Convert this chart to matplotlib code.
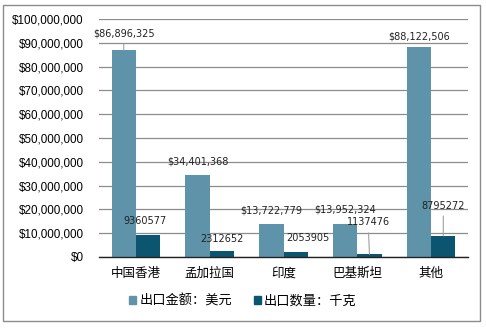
import matplotlib.pyplot as plt
import numpy as np
from matplotlib.ticker import FuncFormatter
from matplotlib.patches import Rectangle

plt.rcParams['font.family'] = ['Liberation Sans', 'Noto Sans CJK SC', 'DejaVu Sans']

categories = ['中国香港', '孟加拉国', '印度', '巴基斯坦', '其他']
amount_usd = [86896325, 34401368, 13722779, 13952324, 88122506]
weight_kg = [9360577, 2312652, 2053905, 1137476, 8795272]
series_names = ['出口金额：美元', '出口数量：千克']

light = '#5e93aa'
dark = '#0c5570'

fig = plt.figure(figsize=(4.86, 3.29), dpi=100)
ax = fig.add_axes([99 / 486, 1 - 257 / 329, 369 / 486, 238 / 329])

x = np.arange(len(categories))
w = 0.33
b1 = ax.bar(x - w / 2, amount_usd, w, color=light, zorder=3)
b2 = ax.bar(x + w / 2, weight_kg, w, color=dark, zorder=3)

ax.set_xlim(-0.5, len(categories) - 0.5)
ax.set_ylim(0, 100000000)
ax.set_yticks(np.arange(0, 100000001, 10000000))
ax.yaxis.set_major_formatter(FuncFormatter(lambda v, _: f'${v:,.0f}'))
ax.grid(axis='y', color='#8c8c8c', linewidth=0.9, zorder=0)
ax.set_xticks(x)
ax.set_xticklabels(categories, fontsize=9, family=['Noto Sans CJK SC'])
ax.tick_params(axis='y', length=0, labelsize=8.4, pad=11)
ax.tick_params(axis='x', length=0, pad=7)
for s in ['top', 'right', 'left']:
    ax.spines[s].set_visible(False)
ax.spines['bottom'].set_color('#222222')
ax.spines['bottom'].set_linewidth(1.0)
ax.spines['bottom'].set_zorder(4)

# data labels: (dx, dy) offsets in points from the bar top, leader line when far
amt_off = [(0, 12), (0, 10), (0, 10), (0, 10), (0, 8)]
wt_off = [(-2, 10), (0, 9), (9, 10), (-1, 23), (0, 22)]
amt_lead = [True, False, False, False, False]
wt_lead = [False, False, False, True, True]

def label(bars, vals, offs, leads, fmt):
    for bar, v, (dx, dy), lead in zip(bars, vals, offs, leads):
        cx = bar.get_x() + bar.get_width() / 2
        props = dict(arrowstyle='-', color='#a0a0a0', lw=0.8, shrinkA=2, shrinkB=0) if lead else None
        ax.annotate(fmt(v), (cx, v), xytext=(dx, dy), textcoords='offset points',
                    ha='center', va='center', fontsize=7, family=['DejaVu Sans'],
                    color='#222222', arrowprops=props, zorder=5)

label(b1, amount_usd, amt_off, amt_lead, lambda v: f'${v:,}')
label(b2, weight_kg, wt_off, wt_lead, lambda v: f'{v}')

handles = [Rectangle((0, 0), 1, 1, color=light), Rectangle((0, 0), 1, 1, color=dark)]
fig.legend(handles, series_names, loc='center', bbox_to_anchor=(0.5, 1 - 301 / 329),
           ncol=2, frameon=False, handlelength=0.55, handleheight=0.55,
           handletextpad=0.25, columnspacing=1.6,
           prop={'family': ['Noto Sans CJK SC'], 'size': 9.5})

fig.patches.append(Rectangle((3 / 486, 1 - 321 / 329), 477 / 486, 316 / 329,
                             transform=fig.transFigure, fill=False,
                             edgecolor='#8c8c8c', linewidth=1.0))

fig.savefig('out.png', dpi=100)
